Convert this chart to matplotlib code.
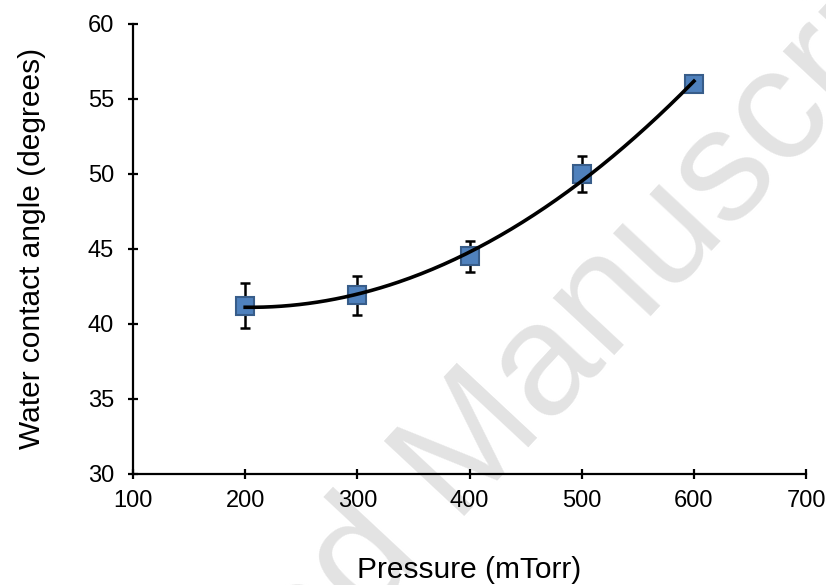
import numpy as np
import matplotlib.pyplot as plt

# contact angle vs. chamber pressure
pressure = [200, 300, 400, 500, 600]
angle = [41.2, 41.9, 44.5, 50.0, 56.0]
angle_err = [1.5, 1.3, 1.05, 1.2, 0.3]

plt.rcParams['font.family'] = ['Liberation Sans', 'DejaVu Sans']

fig = plt.figure(figsize=(8.26, 5.85), dpi=100)
ax = fig.add_axes([0.161, 0.19, 0.815, 0.769])
ax.patch.set_alpha(0)

# faint watermark behind the plot
fig.text(0.545, 0.195, "Accepted Manuscript", fontsize=115, color='#e3e3e3',
         rotation=47, ha='center', va='center', zorder=-1)

# second order trendline
coef = np.polyfit(pressure, angle, 2)
xs = np.linspace(200, 600, 200)
ax.plot(xs, np.polyval(coef, xs), color='black', lw=2.6, zorder=4)

ax.errorbar(pressure, angle, yerr=angle_err, fmt='none', ecolor='black',
            elinewidth=1.8, capsize=3.5, capthick=1.8, zorder=2)
ax.plot(pressure, angle, 's', ms=13.5, mfc='#4f81bd', mec='#385d8a', mew=1.5, zorder=3)

ax.set_xlim(100, 700)
ax.set_ylim(30, 60)
ax.set_xticks(range(100, 701, 100))
ax.set_yticks(range(30, 61, 5))
for s in ['top', 'right']:
    ax.spines[s].set_visible(False)
for s in ['left', 'bottom']:
    ax.spines[s].set_linewidth(1.6)
ax.tick_params(direction='inout', length=7, width=1.6, labelsize=17)
ax.tick_params(axis='y', pad=10)
ax.tick_params(axis='x', pad=8)

ax.set_xlabel("Pressure (mTorr)", fontsize=21.5, labelpad=32)
ax.set_ylabel("Water contact angle (degrees)", fontsize=21.5, labelpad=30)

fig.savefig("out.png", dpi=100)
